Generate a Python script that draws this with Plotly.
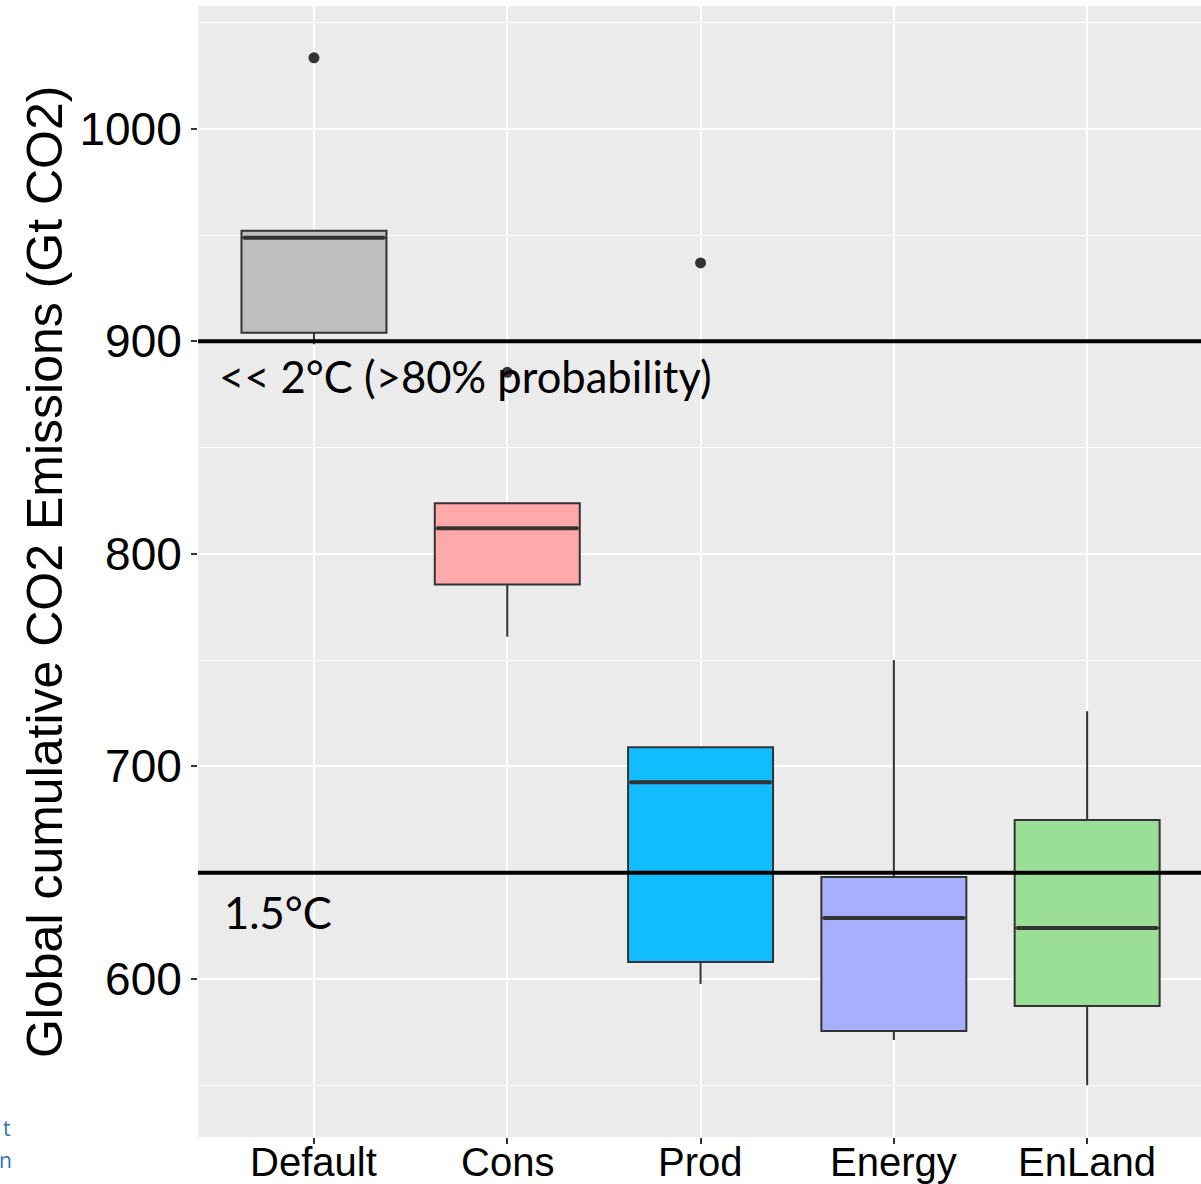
import plotly.graph_objects as go

categories = ["Default", "Cons", "Prod", "Energy", "EnLand"]
q1 = [904.0, 785.6, 608.0, 575.5, 587.3]
median = [948.7, 812.0, 692.5, 628.7, 624.0]
q3 = [952.0, 823.8, 709.0, 648.0, 674.8]
lower_fence = [898.6, 761.0, 597.6, 571.3, 550.0]
upper_fence = [952.0, 823.8, 709.0, 750.0, 725.9]
fills = ["#BEBEBE", "#FFA9AB", "#12BDFF", "#A9AFFF", "#9ADE98"]
outlier_cat = [0, 1, 2]
outlier_val = [1033.4, 885.4, 936.9]
thresholds = [900, 650]
threshold_labels = ["<< 2°C (>80% probability)", "1.5°C"]
threshold_label_x = [-0.5, -0.478]
threshold_label_y = [883.5, 631.5]

BOX_W = 0.75
fig = go.Figure()
for i, c in enumerate(categories):
    fig.add_trace(go.Box(
        x=[i], q1=[q1[i]], median=[median[i]], q3=[q3[i]],
        lowerfence=[lower_fence[i]], upperfence=[upper_fence[i]],
        width=BOX_W, whiskerwidth=0, fillcolor=fills[i],
        line=dict(color="#333333", width=2), boxpoints=False,
        name=c, showlegend=False, hoverinfo="skip"))
    # thicker median line like ggplot
    fig.add_trace(go.Scatter(
        x=[i - BOX_W / 2 + 0.01, i + BOX_W / 2 - 0.01], y=[median[i], median[i]],
        mode="lines", line=dict(color="#333333", width=4),
        showlegend=False, hoverinfo="skip"))
    # category label placed close under the axis (as in the reference)
    fig.add_annotation(x=i, xref="x", yref="paper", y=-0.0005, text=c,
                       showarrow=False, xanchor="center", yanchor="top",
                       font=dict(family="Liberation Sans", size=40, color="black"))

fig.add_trace(go.Scatter(
    x=outlier_cat, y=outlier_val, mode="markers",
    marker=dict(color="#333333", size=11), showlegend=False, hoverinfo="skip"))

for t in thresholds:
    fig.add_shape(type="line", xref="paper", x0=0, x1=1, yref="y", y0=t, y1=t,
                  line=dict(color="black", width=4))

for lab, lx, ly in zip(threshold_labels, threshold_label_x, threshold_label_y):
    fig.add_annotation(x=lx, y=ly, xref="x", yref="y", text=lab, showarrow=False,
                       xanchor="left", yanchor="middle",
                       font=dict(family="Lato", size=43.5, color="black"))

fig.add_annotation(xref="paper", yref="paper", x=-0.153, y=0.5,
                   text="Global cumulative CO2 Emissions (Gt CO2)", textangle=-90,
                   showarrow=False, xanchor="center", yanchor="middle",
                   font=dict(family="Liberation Sans", size=50, color="black"))

fig.add_annotation(xref="paper", yref="paper", x=-0.190, y=0.008, text="t",
                   showarrow=False, xanchor="center", yanchor="middle",
                   font=dict(family="Open Sans", size=21, color="#2E75B6"))
fig.add_annotation(xref="paper", yref="paper", x=-0.192, y=-0.020, text="n",
                   showarrow=False, xanchor="center", yanchor="middle",
                   font=dict(family="Open Sans", size=21, color="#2E75B6"))

fig.update_layout(
    width=1201, height=1184,
    margin=dict(l=198, r=0, t=6, b=47),
    paper_bgcolor="white", plot_bgcolor="#EBEBEB",
    font=dict(family="Liberation Sans", color="black"),
    xaxis=dict(range=[-0.6, 4.589], tickvals=list(range(len(categories))),
               showticklabels=False, showgrid=True, gridcolor="white", gridwidth=2,
               zeroline=False, ticks="outside", ticklen=6, tickcolor="#333333",
               tickwidth=2, showline=False, automargin=False),
    yaxis=dict(range=[525.6, 1057.8], tickvals=[600, 700, 800, 900, 1000],
               showgrid=True, gridcolor="white", gridwidth=2, zeroline=False,
               ticks="outside", ticklen=6, tickcolor="#333333", tickwidth=2,
               tickfont=dict(size=46, color="black"), automargin=False,
               minor=dict(tickvals=[550, 650, 750, 850, 950, 1050], showgrid=True,
                          gridcolor="white", gridwidth=1, ticks="")),
)

fig.write_html("out.html")
